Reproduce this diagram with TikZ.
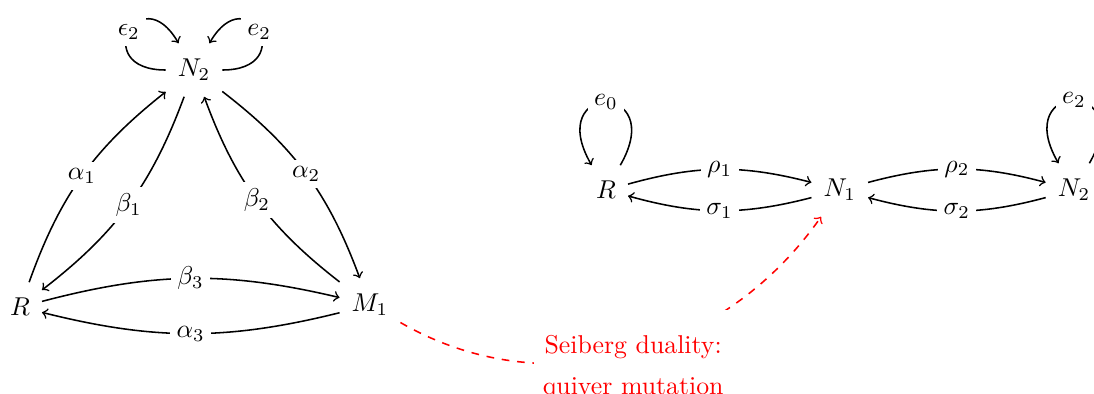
\documentclass[tikz,border=0pt]{standalone}
\usepackage{tikz}
\usetikzlibrary{positioning}
\usepackage{amsmath,amssymb}

\begin{document}
\begin{tikzpicture}[
  vert/.style={inner xsep=4.5pt, inner ysep=6pt},
  lab/.style={fill=white, inner sep=2.5pt},
  arr/.style={->, semithick},
  seib/.style={fill=white, text=red, align=center, inner xsep=3.3pt, inner ysep=10pt},
  >=to
]
\useasboundingbox (0,0) rectangle (14.905,-5.368);
% left quiver
\node[vert] (N2) at (2.643,-0.954) {$N_2$};
\node[vert] (R) at (0.272,-4.183) {$R$};
\node[vert] (M1) at (5.041,-4.155) {$M_1$};
\draw[arr] (R) to[bend left=16] node[lab] {$\alpha_1$} (N2);
\draw[arr] (N2) to[bend left=16] node[lab] {$\beta_1$} (R);
\draw[arr] (N2) to[bend left=16] node[lab] {$\alpha_2$} (M1);
\draw[arr] (M1) to[bend left=16] node[lab] {$\beta_2$} (N2);
\draw[arr] (R) to[bend left=14] node[lab] {$\beta_3$} (M1);
\draw[arr] (M1) to[bend left=14] node[lab] {$\alpha_3$} (R);
\draw[arr] (N2) to[out=180,in=120,distance=1.05cm] node[lab] {$\epsilon_2$} (N2);
\draw[arr] (N2) to[out=0,in=60,distance=1.05cm] node[lab] {$e_2$} (N2);

% right quiver
\node[vert] (Rb) at (8.256,-2.589) {$R$};
\node[vert, right=2.5cm of Rb] (N1) {$N_1$};
\node[vert, right=2.42cm of N1] (N2b) {$N_2$};
\draw[arr] (Rb) to[bend left=15] node[lab] {$\rho_1$} (N1);
\draw[arr] (N1) to[bend left=15] node[lab] {$\sigma_1$} (Rb);
\draw[arr] (N1) to[bend left=15] node[lab] {$\rho_2$} (N2b);
\draw[arr] (N2b) to[bend left=15] node[lab] {$\sigma_2$} (N1);
\draw[arr] (Rb) to[out=60,in=120,distance=1.32cm] node[lab] {$e_0$} (Rb);
\draw[arr] (N2b) to[out=60,in=120,distance=1.32cm] node[lab] {$e_2$} (N2b);

% mutation
\draw[->, red, dashed, semithick] (M1) to[out=-30,in=-125] node[seib, xshift=1.5pt, yshift=-5.5pt] (seib) {Seiberg duality:\\[4pt] quiver mutation} (N1);
\end{tikzpicture}
\end{document}
